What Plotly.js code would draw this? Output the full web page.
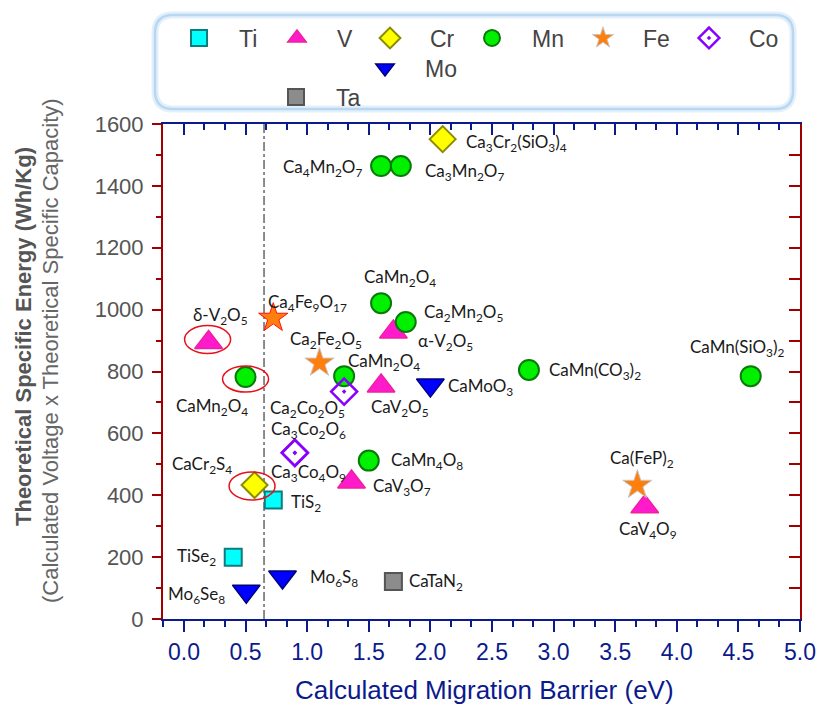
<!DOCTYPE html>
<html>
<head>
<meta charset="utf-8">
<script src="https://cdn.plot.ly/plotly-3.0.1.min.js"></script>
<style>html,body{margin:0;padding:0;background:#fff;}#chart{width:821px;height:707px;}</style>
</head>
<body>
<div id="chart"></div>
<script>
// ---------------- DATA ----------------
const seriesNames = ['Ti', 'V', 'Cr', 'Mn', 'Fe', 'Co', 'Mo', 'Ta'];

const tiNames = ['TiS2', 'TiSe2'];
const tiX = [0.725, 0.40];
const tiY = [385, 200];

const vNames = ['δ-V2O5', 'α-V2O5', 'CaV2O5', 'CaV3O7', 'CaV4O9'];
const vX = [0.20, 1.70, 1.60, 1.36, 3.74];
const vY = [894, 928, 753, 443, 363];

const crNames = ['Ca3Cr2(SiO3)4', 'CaCr2S4'];
const crX = [2.10, 0.573];
const crY = [1551, 433];

const mnNames = ['Ca4Mn2O7', 'Ca3Mn2O7', 'CaMn2O4', 'Ca2Mn2O5', 'CaMn2O4', 'CaMn2O4', 'CaMn4O8', 'CaMn(CO3)2', 'CaMn(SiO3)2'];
const mnX = [1.60, 1.76, 1.60, 1.80, 0.50, 1.30, 1.50, 2.80, 4.60];
const mnY = [1464, 1464, 1021, 960, 782, 785, 512, 805, 785];

const feNames = ['Ca2Fe2O5', 'Ca(FeP)2', 'Ca4Fe9O17'];
const feX = [1.10, 3.68, 0.725];
const feY = [828, 433, 973];

const coNames = ['Ca2Co2O5', 'Ca3Co2O6', 'Ca3Co4O9'];
const coX = [1.30, 0.90, 0.90];
const coY = [735, 537, 537];

const moNames = ['CaMoO3', 'Mo6S8', 'Mo6Se8'];
const moX = [2.00, 0.80, 0.506];
const moY = [756, 136, 90];

const taNames = ['CaTaN2'];
const taX = [1.70];
const taY = [121];

const barrierLimit = 0.65;   // dash-dot reference line (eV)

const xTitle = 'Calculated Migration Barrier (eV)';
const yTitle1 = 'Theoretical Specific Energy (Wh/Kg)';
const yTitle2 = '(Calculated Voltage x Theoretical Specific Capacity)';

// ---------------- STYLE / PLACEMENT ----------------
const seriesData = {
  Ti: [tiNames, tiX, tiY], V: [vNames, vX, vY], Cr: [crNames, crX, crY], Mn: [mnNames, mnX, mnY],
  Fe: [feNames, feX, feY], Co: [coNames, coX, coY], Mo: [moNames, moX, moY], Ta: [taNames, taX, taY]
};

const markerStyle = {
  Ti: {symbol: 'square', size: 17, color: '#00FFFF', line: {color: '#0E7C7B', width: 2}},
  V:  {symbol: 'triangle-up', size: 24, color: '#FF1ACB', line: {color: '#F0209E', width: 1.5}},
  Cr: {symbol: 'diamond', size: 20, color: '#FFFF00', line: {color: '#8C8C00', width: 2}},
  Mn: {symbol: 'circle', size: 20, color: '#00F000', line: {color: '#0A7A0A', width: 2}},
  Fe: {symbol: 'star', size: 22, color: '#FF7F0E', line: {color: ['#C8C8C8', '#C8C8C8', '#FF1010'], width: 1}},
  Co: {symbol: 'diamond-open-dot', size: 20, color: '#8A00FF', line: {width: 2.5}},
  Mo: {symbol: 'triangle-down', size: 24, color: '#0000FF', line: {color: '#00007A', width: 1.5}},
  Ta: {symbol: 'square', size: 17, color: '#8C8C8C', line: {color: '#555555', width: 2}}
};

// label offsets in pixels: [dx, dy (down), anchor]
const labelPlace = {
  Ti: [[16, 3, 'left'], [-15, 0, 'right']],
  V:  [[12, -26, 'center'], [23, 10, 'left'], [19, 22, 'center'], [19, 5, 'left'], [3, 23, 'center']],
  Cr: [[21, 4, 'left'], [-21, -20, 'right']],
  Mn: [[-17, 2, 'right'], [22, 6, 'left'], [19, -25, 'center'], [16, -9, 'left'], [-34, 30, 'center'],
       [40, -14, 'center'], [20, 0, 'left'], [18, 1, 'left'], [-14, -28, 'center']],
  Fe: [[7, -23, 'center'], [5, -26, 'center'], [-7, -15, 'left']],
  Co: [[-37, 17, 'center'], [14, -23, 'center'], [14, 20, 'center']],
  Mo: [[16, 2, 'left'], [25, 1, 'left'], [-19, 4, 'right']],
  Ta: [[14, 0, 'left']]
};

// highlighted points: [series, index, [halfW, halfH], [dx, dyUp]]
const circled = [['V', 0, [23, 14], [-1, 3]], ['Mn', 4, [23, 13], [0, -2]], ['Cr', 1, [23, 14], [-2.5, -1]]];

// legend placement (pixels): symbol center x, row center y
const legendPos = {Ti: [199, 38], V: [297, 38], Cr: [390, 38], Mn: [492, 38], Fe: [603, 38], Co: [709, 38], Mo: [385, 68], Ta: [296, 97]};

const M = {l: 163, r: 21, t: 124, b: 88};
const W = 821, H = 707;
const PW = W - M.l - M.r, PH = H - M.t - M.b;
const px2paperX = p => (p - M.l) / PW;
const py2paperY = p => (H - M.b - p) / PH;

const sub = s => s.replace(/(\d+)/g, '<sub>$1</sub>');

const NAVY = '#0B1A8C';
const DRED = '#A00000';

// ---------------- TRACES ----------------
const traces = [];
const annotations = [];
const legends = {};
seriesNames.forEach((s, k) => {
  const [names, xs, ys] = seriesData[s];
  const lg = k === 0 ? 'legend' : 'legend' + (k + 1);
  traces.push({
    type: 'scatter', mode: 'markers', name: s, x: xs, y: ys, text: names,
    hovertemplate: '%{text}<br>%{x}, %{y}<extra>' + s + '</extra>',
    marker: markerStyle[s], legend: lg, cliponaxis: false
  });
  const [lx, ly] = legendPos[s];
  legends[lg] = {
    x: px2paperX(lx - 40), xanchor: 'left', y: py2paperY(ly), yanchor: 'middle',
    orientation: 'h', bgcolor: 'rgba(0,0,0,0)', borderwidth: 0, itemwidth: 70,
    font: {family: 'Liberation Sans, Arial, sans-serif', size: 23, color: '#444'}
  };
  names.forEach((n, i) => {
    const p = labelPlace[s][i];
    annotations.push({
      x: xs[i], y: ys[i], xref: 'x', yref: 'y', text: sub(n), showarrow: false,
      xanchor: p[2], yanchor: 'middle', xshift: p[0], yshift: -p[1],
      font: {family: 'Lato, sans-serif', size: 17, color: '#1a1a1a'}
    });
  });
});

// invisible helper trace for the mirrored (top/right) axes
traces.push({type: 'scatter', mode: 'markers', x: taX, y: taY, xaxis: 'x2', yaxis: 'y2',
  marker: {opacity: 0}, showlegend: false, hoverinfo: 'skip'});

// axis titles as annotations
annotations.push({xref: 'paper', yref: 'paper', x: px2paperX(23), y: py2paperY(337), textangle: -90,
  text: '<b>' + yTitle1 + '</b>', showarrow: false, xanchor: 'center', yanchor: 'middle',
  font: {family: 'Liberation Sans, Arial, sans-serif', size: 22, color: '#555'}});
annotations.push({xref: 'paper', yref: 'paper', x: px2paperX(50), y: py2paperY(351), textangle: -90,
  text: yTitle2, showarrow: false, xanchor: 'center', yanchor: 'middle',
  font: {family: 'Liberation Sans, Arial, sans-serif', size: 22, color: '#666'}});
annotations.push({xref: 'paper', yref: 'paper', x: px2paperX(484), y: py2paperY(690),
  text: xTitle, showarrow: false, xanchor: 'center', yanchor: 'middle',
  font: {family: 'Liberation Sans, Arial, sans-serif', size: 26, color: NAVY}});

// ---------------- SHAPES ----------------
const shapes = [];
shapes.push({type: 'line', xref: 'x', yref: 'paper', x0: barrierLimit, x1: barrierLimit, y0: 0, y1: 1,
  line: {color: '#666', width: 1.5, dash: 'dashdot'}, layer: 'below'});
circled.forEach(([s, i, [hw, hh], [dx, dy]]) => {
  const [, xs, ys] = seriesData[s];
  shapes.push({type: 'circle', xref: 'x', yref: 'y', xsizemode: 'pixel', ysizemode: 'pixel',
    xanchor: xs[i], yanchor: ys[i], x0: dx - hw, x1: dx + hw, y0: dy - hh, y1: dy + hh,
    line: {color: '#E8101A', width: 1.5}, fillcolor: 'rgba(0,0,0,0)'});
});
// rounded legend frame
(function () {
  const x0 = px2paperX(155), x1 = px2paperX(793), y0 = py2paperY(109), y1 = py2paperY(15);
  const rx = 18 / PW, ry = 18 / PH;
  const path = `M${x0 + rx},${y1} L${x1 - rx},${y1} Q${x1},${y1} ${x1},${y1 - ry} L${x1},${y0 + ry} Q${x1},${y0} ${x1 - rx},${y0} ` +
    `L${x0 + rx},${y0} Q${x0},${y0} ${x0},${y0 + ry} L${x0},${y1 - ry} Q${x0},${y1} ${x0 + rx},${y1} Z`;
  shapes.push({type: 'path', xref: 'paper', yref: 'paper', path: path, line: {color: '#E3F0FB', width: 7}, fillcolor: 'rgba(0,0,0,0)'});
  shapes.push({type: 'path', xref: 'paper', yref: 'paper', path: path, line: {color: '#B8D8F2', width: 2.5}, fillcolor: 'rgba(0,0,0,0)'});
})();

// ---------------- LAYOUT ----------------
const xr = [-0.17, 5.0], yr = [0, 1600];
const layout = Object.assign({
  width: W, height: H, margin: M, paper_bgcolor: '#fff', plot_bgcolor: '#fff', showlegend: true,
  xaxis: {range: xr, dtick: 0.5, tick0: 0, ticks: 'outside', ticklen: 11, tickwidth: 2, tickcolor: NAVY,
    showline: true, linecolor: NAVY, linewidth: 2, showgrid: false, zeroline: false,
    tickformat: '.1f', tickfont: {family: 'Liberation Sans, Arial, sans-serif', size: 23, color: NAVY},
    minor: {dtick: 0.5 / 3, tick0: 0, ticks: 'outside', ticklen: 6, tickwidth: 2, tickcolor: NAVY, showgrid: false}},
  yaxis: {range: yr, dtick: 200, tick0: 0, ticks: 'outside', ticklen: 9, tickwidth: 2, tickcolor: DRED,
    showline: true, linecolor: DRED, linewidth: 2, showgrid: false, zeroline: false, ticklabelstandoff: 4,
    tickfont: {family: 'Liberation Sans, Arial, sans-serif', size: 22, color: '#555'},
    minor: {dtick: 100, ticks: 'outside', ticklen: 5, tickwidth: 2, tickcolor: DRED, showgrid: false}},
  xaxis2: {range: xr, overlaying: 'x', side: 'top', dtick: 0.5, tick0: 0, ticks: 'inside', ticklen: 11, tickwidth: 2,
    tickcolor: NAVY, showline: true, linecolor: NAVY, linewidth: 2, showgrid: false, zeroline: false, showticklabels: false,
    minor: {dtick: 0.5 / 3, tick0: 0, ticks: 'inside', ticklen: 6, tickwidth: 2, tickcolor: NAVY, showgrid: false}},
  yaxis2: {range: yr, overlaying: 'y', side: 'right', dtick: 100, tick0: 0, ticks: 'inside', ticklen: 11, tickwidth: 2,
    tickcolor: DRED, showline: true, linecolor: DRED, linewidth: 2, showgrid: false, zeroline: false, showticklabels: false},
  annotations: annotations, shapes: shapes
}, legends);

Plotly.newPlot('chart', traces, layout, {displayModeBar: false, responsive: false});
</script>
</body>
</html>
